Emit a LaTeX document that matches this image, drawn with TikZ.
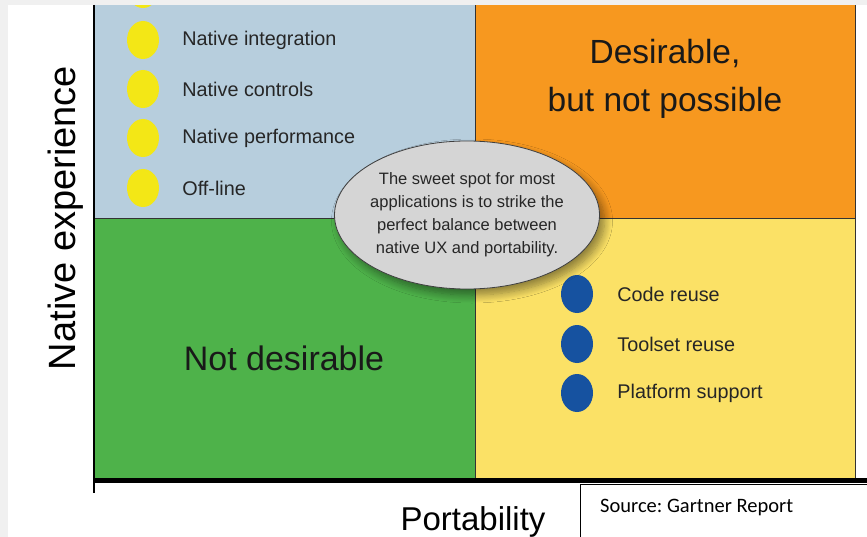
\documentclass[tikz,border=0pt]{standalone}
\usepackage{fontspec}
\setmainfont{Liberation Sans}
\newfontfamily\sourcefont{Carlito}
\usetikzlibrary{shapes.geometric, positioning, shadows.blur}
\definecolor{nativeblue}{RGB}{183,206,221}
\definecolor{desireorange}{RGB}{247,152,31}
\definecolor{notgreen}{RGB}{78,178,74}
\definecolor{portyellow}{RGB}{251,225,102}
\definecolor{bulletyellow}{RGB}{243,231,22}
\definecolor{bulletblue}{RGB}{22,82,160}
\definecolor{spotgray}{RGB}{213,213,213}

\tikzset{
  yellowdot/.style={ellipse, fill=bulletyellow, minimum width=32pt, minimum height=38pt, inner sep=0pt},
  bluedot/.style={ellipse, fill=bulletblue, minimum width=32pt, minimum height=38pt, inner sep=0pt},
  itemtext/.style={inner sep=0pt, font=\fontsize{19.8}{22}\selectfont, text=black!85},
  bigtext/.style={align=center, inner sep=0pt, font=\fontsize{33.5}{48}\selectfont, text=black!90},
  divider/.style={draw=black!80, line width=0.8pt}
}

\begin{document}
\begin{tikzpicture}[x=1pt, y=-1pt]
    \useasboundingbox (0,0) rectangle (867,537);
    % Background
    \fill[white] (0,0) rectangle (867,537);
    \fill[black!6] (0,0) rectangle (8,537);
    
    % Draw quadrants
    \fill[nativeblue] (95,5) rectangle (475,218);
    \fill[desireorange] (475,5) rectangle (855,218);
    \fill[notgreen] (95,218) rectangle (475,478);
    \fill[portyellow] (475,218) rectangle (855,478);
    \draw[divider] (475,5) -- (475,478);
    \draw[divider] (95,218) -- (855,218);
    \draw[divider] (855,5) -- (855,478);
    
    % Native bullets
    \node[yellowdot] (dotTop) at (143,-11) {};
    \node[yellowdot] (dotInteg) at (143,40) {};
    \node[yellowdot] (dotCtrl) at (143,89) {};
    \node[yellowdot] (dotPerf) at (143,138) {};
    \node[yellowdot] (dotOff) at (143,188) {};
    \fill[black!6] (0,0) rectangle (867,5);
    \node[itemtext, right=23pt of dotInteg] (txtInteg) {Native integration};
    \node[itemtext, right=23pt of dotCtrl] (txtCtrl) {Native controls};
    \node[itemtext, right=23pt of dotPerf] (txtPerf) {Native performance};
    \node[itemtext, right=23pt of dotOff] (txtOff) {Off-line};
    
    % Portability bullets
    \node[bluedot] (dotCode) at (577,294) {};
    \node[bluedot] (dotTools) at (577,344) {};
    \node[bluedot] (dotPlat) at (577,393) {};
    \node[itemtext, right=24pt of dotCode] (txtCode) {Code reuse};
    \node[itemtext, right=24pt of dotTools] (txtTools) {Toolset reuse};
    \node[itemtext, right=24pt of dotPlat] (txtPlat) {Platform support};
    
    % Quadrant titles
    \node[bigtext] (desirable) at (665,79) {Desirable,\\but not possible};
    \node[bigtext, font=\fontsize{34}{40}\selectfont] (notDesirable) at (284,358) {Not desirable};
    
    % Sweet spot
    \node[ellipse, draw=black!75, line width=0.8pt, fill=spotgray, minimum width=265pt, minimum height=148pt,
          align=center, inner xsep=-30pt, inner ysep=-20pt, font=\fontsize{16.5}{23}\selectfont, text=black!85,
          blur shadow={shadow xshift=5pt, shadow yshift=-6pt, shadow blur steps=10, shadow blur radius=8pt,
                       shadow opacity=45}]
          (sweetSpot) at (467,215) {The sweet spot for most\\applications is to strike the\\perfect balance between\\native UX and portability.};
    
    % Axes
    \draw[line width=1.6pt] (94,5) -- (94,493);
    \draw[line width=5pt] (94,480) -- (867,480);
    \node[rotate=90, inner sep=0pt, font=\fontsize{38}{40}\selectfont] (yLabel) at (66,218) {Native experience};
    \node[inner sep=0pt, font=\fontsize{33}{36}\selectfont] (xLabel) at (473,522) {Portability};
    
    % Source
    \draw[fill=white, line width=0.6pt] (580,484) rectangle (869,539);
    \node[anchor=west, inner sep=0pt, font=\sourcefont\fontsize{20.5}{22}\selectfont] (source) at (600,507) {Source:\ Gartner Report};
\end{tikzpicture}
\end{document}
